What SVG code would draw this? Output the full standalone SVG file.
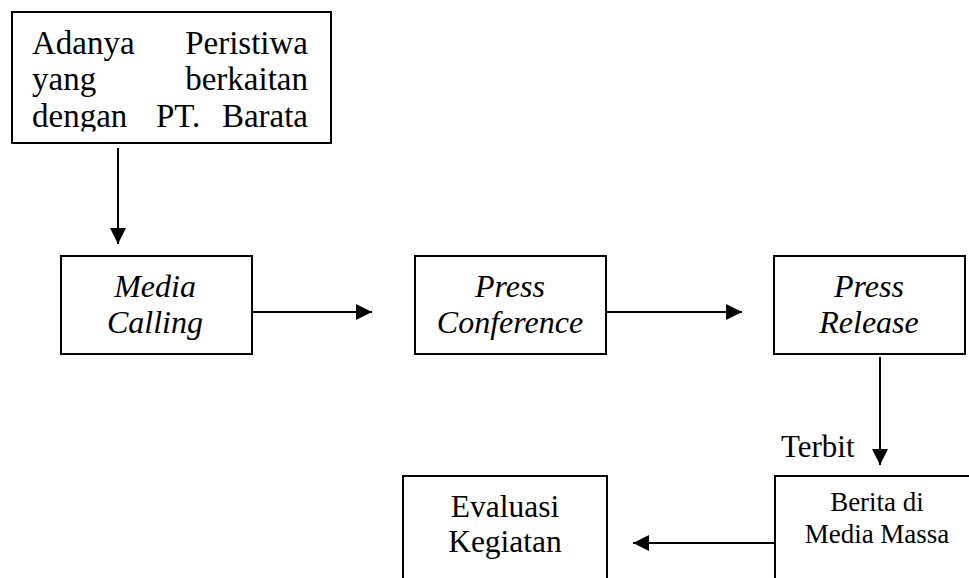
<svg xmlns="http://www.w3.org/2000/svg" width="969" height="578" viewBox="0 0 969 578">
  <style>
    .box { fill: #ffffff; stroke: #000000; stroke-width: 2; }
    .edge { fill: none; stroke: #000000; stroke-width: 2; }
    .t { font-family: "Liberation Serif", "Times New Roman", serif; fill: #000000; }
    .big { font-size: 33px; }
    .it { font-size: 32px; font-style: italic; }
    .mid { text-anchor: middle; }
    .end { text-anchor: end; }
  </style>
  <defs>
    <marker id="head" viewBox="0 0 16 16" refX="16" refY="8" markerWidth="16" markerHeight="16" markerUnits="userSpaceOnUse" orient="auto">
      <path d="M0,0 L16,8 L0,16 Z" fill="#000000"/>
    </marker>
    <clipPath id="clip-start">
      <rect x="12" y="12" width="319" height="119.5"/>
    </clipPath>
  </defs>
  <rect x="0" y="0" width="969" height="578" fill="#ffffff"/>

  <!-- start event box, justified text -->
  <g id="node-peristiwa">
    <rect class="box" x="12" y="12" width="319" height="131"/>
    <g clip-path="url(#clip-start)" class="t big">
      <text x="32" y="54">Adanya</text>
      <text x="308" y="54" class="end">Peristiwa</text>
      <text x="32" y="90">yang</text>
      <text x="308" y="90" class="end">berkaitan</text>
      <text x="32" y="127">dengan</text>
      <text x="156" y="127">PT.</text>
      <text x="308" y="127" class="end">Barata</text>
    </g>
  </g>

  <g id="node-media-calling">
    <rect class="box" x="61" y="256" width="191" height="98"/>
    <text class="t it mid" x="155" y="297">Media</text>
    <text class="t it mid" x="155" y="333">Calling</text>
  </g>

  <g id="node-press-conference">
    <rect class="box" x="415" y="256" width="191" height="98"/>
    <text class="t it mid" x="510" y="297">Press</text>
    <text class="t it mid" x="510" y="333">Conference</text>
  </g>

  <g id="node-press-release">
    <rect class="box" x="774" y="256" width="191" height="98"/>
    <text class="t it mid" x="869" y="297">Press</text>
    <text class="t it mid" x="869" y="333">Release</text>
  </g>

  <g id="node-berita">
    <rect class="box" x="775" y="476" width="204" height="140"/>
    <text class="t mid" style="font-size:27px" x="877" y="511">Berita di</text>
    <text class="t mid" style="font-size:27px" x="877" y="543">Media Massa</text>
  </g>

  <g id="node-evaluasi">
    <rect class="box" x="403" y="476" width="204" height="140"/>
    <text class="t mid" style="font-size:31.5px" x="505" y="517">Evaluasi</text>
    <text class="t mid" style="font-size:31.5px" x="505" y="552">Kegiatan</text>
  </g>

  <!-- connectors -->
  <g id="connectors">
    <line class="edge" x1="118" y1="148" x2="118" y2="244" marker-end="url(#head)"/>
    <line class="edge" x1="252" y1="312" x2="372" y2="312" marker-end="url(#head)"/>
    <line class="edge" x1="606" y1="312" x2="742" y2="312" marker-end="url(#head)"/>
    <line class="edge" x1="880" y1="357" x2="880" y2="465" marker-end="url(#head)"/>
    <line class="edge" x1="775" y1="543" x2="633" y2="543" marker-end="url(#head)"/>
    <text class="t" style="font-size:31px" x="781" y="457">Terbit</text>
  </g>
</svg>
